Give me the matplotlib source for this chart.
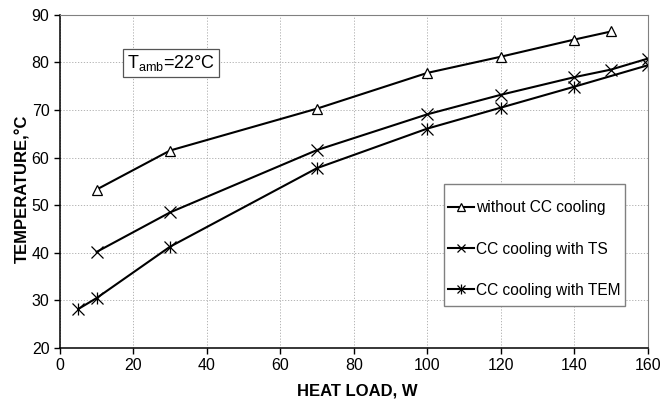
import matplotlib
matplotlib.use("Agg")
import matplotlib.pyplot as plt
from matplotlib.patches import Rectangle

plt.rcParams["font.family"] = ["Liberation Sans", "DejaVu Sans"]
plt.rcParams["mathtext.fontset"] = "custom"
plt.rcParams["mathtext.rm"] = "Liberation Sans"

# data
load_no_cc = [10, 30, 70, 100, 120, 140, 150]
temp_no_cc = [53.3, 61.5, 70.3, 77.8, 81.2, 84.8, 86.5]

load_ts = [10, 30, 70, 100, 120, 140, 150, 160]
temp_ts = [40.2, 48.5, 61.6, 69.1, 73.2, 76.9, 78.5, 80.8]

load_tem = [5, 10, 30, 70, 100, 120, 140, 160]
temp_tem = [28.2, 30.5, 41.3, 57.8, 66.1, 70.5, 74.9, 79.4]

labels = ["without CC cooling", "CC cooling with TS", "CC cooling with TEM"]

fig = plt.figure(figsize=(6.65, 4.01), dpi=100)
ax = fig.add_axes([0.090, 0.132, 0.884, 0.831])

l1, = ax.plot(load_no_cc, temp_no_cc, "k-", lw=1.5, marker="^", ms=7.5,
              mfc="white", mec="black", mew=0.9)
l2, = ax.plot(load_ts, temp_ts, "k-", lw=1.5, marker="x", ms=8, mew=0.9)
l3, = ax.plot(load_tem, temp_tem, "k-", lw=1.5, marker="x", ms=8, mew=0.9)
l3b, = ax.plot(load_tem, temp_tem, ls="none", marker="|", ms=9, mec="black", mew=0.9)

ax.set_xlim(0, 160)
ax.set_ylim(20, 90)
ax.set_xticks(range(0, 161, 20))
ax.set_yticks(range(20, 91, 10))
ax.grid(True, ls=(0, (1.5, 2)), color="#a8a8a8", lw=0.6)
ax.tick_params(labelsize=11.5, length=4, width=1, direction="out", color="black")

for s in ["top", "right"]:
    ax.spines[s].set_color("#808080")
for s in ["left", "bottom"]:
    ax.spines[s].set_color("black")
    ax.spines[s].set_linewidth(1.1)

ax.set_xlabel("HEAT LOAD, W", fontsize=12, fontweight="bold")
ax.set_ylabel("TEMPERATURE,°C", fontsize=12, fontweight="bold")
ax.xaxis.set_label_coords(0.506, -0.105)
ax.yaxis.set_label_coords(-0.05, 0.477)

ax.text(18.2, 79.9, r"T$_\mathrm{amb}$=22°C", fontsize=13, va="center",
        bbox=dict(boxstyle="square,pad=0.22", fc="white", ec="#555555", lw=0.9))

# legend box drawn separately (wider vertical padding than horizontal)
ax.add_patch(Rectangle((0.653, 0.126), 0.308, 0.366, transform=ax.transAxes,
                       fc="white", ec="#808080", lw=1.0, zorder=4))
leg = ax.legend([l1, l2, (l3, l3b)], labels,
                loc="upper left", bbox_to_anchor=(0.660, 0.443),
                fontsize=11.2, frameon=False, markerscale=0.75,
                handlelength=1.7, labelspacing=1.68, borderpad=0,
                handletextpad=0.1, borderaxespad=0)
leg.set_zorder(5)

fig.savefig("out.png", dpi=100)
